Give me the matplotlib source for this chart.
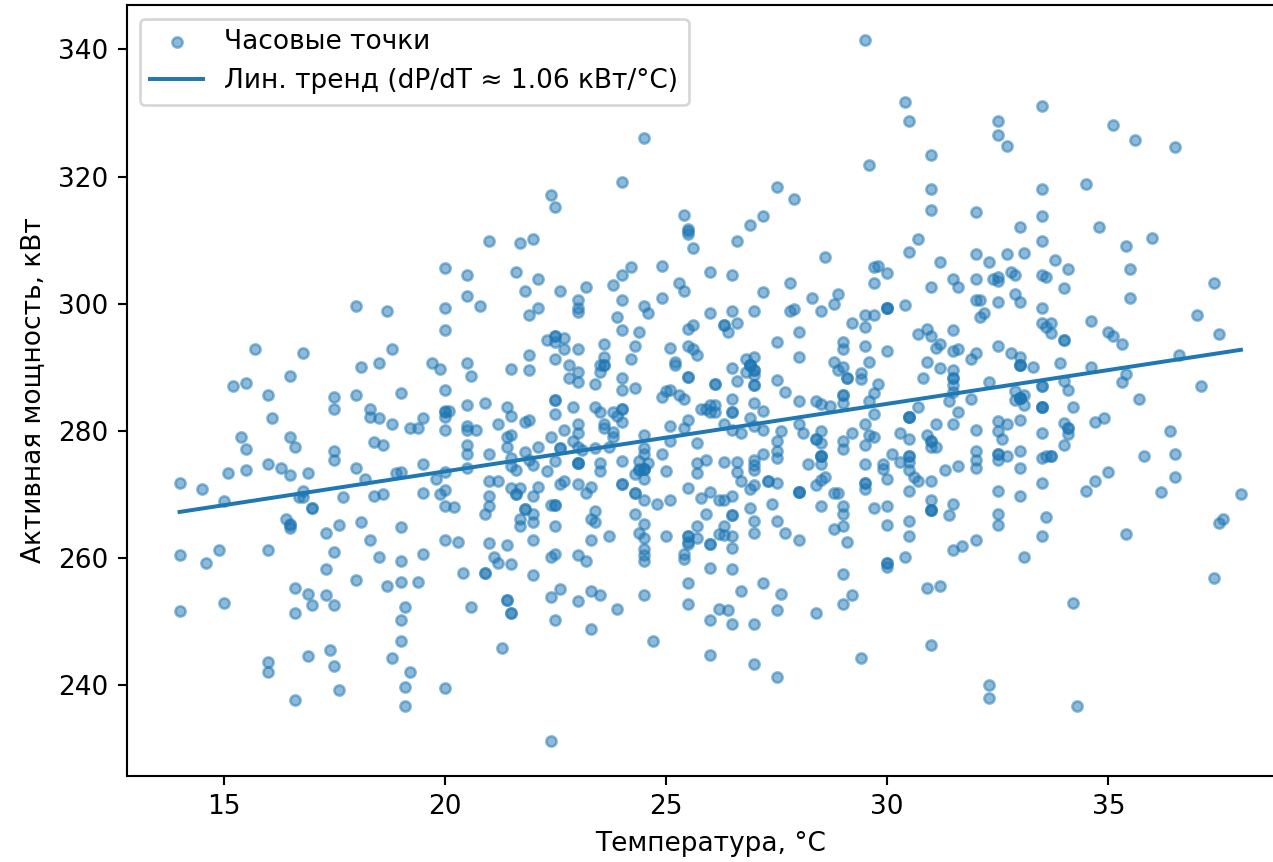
import numpy as np
import matplotlib
matplotlib.use("Agg")
import matplotlib.pyplot as plt

# hourly points: (temperature C, active power kW)
pts_14_17 = [(14.0,271.8),(14.5,270.9),(15.0,268.9),(15.1,273.3),(15.2,287.1),(15.4,279.0),(15.5,287.6),(15.5,277.2),
    (15.5,273.9),(15.7,292.8),(16.0,285.6),(16.0,274.8),(16.1,282.0),(16.3,274.2),(16.5,288.6),(16.5,279.0),
    (16.5,273.0),(16.6,277.5),(16.8,292.2),(16.9,273.3),(16.8,270.6),(16.7,269.6),(16.8,269.6),(14.0,260.4),
    (14.6,259.2),(14.9,261.3),(14.0,251.7),(15.0,252.9),(16.0,261.3),(16.0,243.7),(16.0,242.1),(16.4,266.1),
    (16.5,265.4),(16.5,265.2),(16.5,264.7),(16.6,255.3),(16.6,251.4),(16.6,237.6),(16.9,254.4),(16.9,244.6),
    (17.0,267.9),(17.0,267.9),(17.0,252.6)]

pts_17_20 = [(17.3,264.0),(17.3,254.2),(17.3,258.3),(17.5,285.3),(17.5,283.4),(17.5,276.9),(17.5,275.4),(17.5,261.0),
    (17.5,252.6),(17.5,243.0),(17.4,245.5),(17.6,265.2),(17.6,239.2),(17.7,269.6),(18.0,299.6),(18.0,285.6),
    (18.0,274.2),(18.0,256.5),(18.1,290.0),(18.1,265.6),(18.2,272.4),(18.3,283.4),(18.3,282.2),(18.3,262.8),
    (18.4,278.3),(18.4,269.7),(18.5,290.6),(18.5,282.0),(18.5,260.1),(18.6,277.8),(18.6,270.0),(18.7,298.8),
    (18.7,255.6),(18.8,292.8),(18.8,281.1),(18.8,244.3),(18.9,273.3),(19.0,285.9),(19.0,273.6),(19.0,264.9),
    (19.0,259.5),(19.0,256.2),(19.0,250.2),(19.0,246.9),(19.1,252.3),(19.1,239.7),(19.1,236.7),(19.2,280.4),
    (19.2,242.1),(19.4,280.4),(19.4,256.2),(19.5,282.0),(19.5,274.8),(19.5,270.2),(19.5,260.7),(19.7,290.6),
    (19.8,272.4),(19.9,289.7),(19.9,270.0)]

pts_20_22 = [(20.0,305.6),(20.0,299.3),(20.0,295.8),(20.0,286.4),(20.0,283.2),(20.0,283.0),(20.0,282.2),(20.0,280.1),
    (20.0,273.6),(20.0,270.7),(20.0,268.2),(20.0,262.8),(20.0,239.5),(20.2,268.0),(20.1,283.2),(20.3,262.6),
    (20.4,257.7),(20.5,304.5),(20.5,301.2),(20.5,290.7),(20.5,284.1),(20.5,280.8),(20.5,280.2),(20.5,277.8),
    (20.5,276.3),(20.5,274.2),(20.6,288.6),(20.6,252.3),(20.7,280.2),(20.8,299.7),(20.9,284.4),(20.9,267.0),
    (20.9,257.7),(20.9,257.7),(21.0,309.9),(21.0,276.3),(21.0,272.1),(21.0,269.7),(21.0,268.2),(21.0,262.3),
    (21.1,260.2),(21.2,281.1),(21.2,272.1),(21.2,259.2),(21.3,245.8),(21.4,283.8),(21.4,277.5),(21.4,279.0),
    (21.4,262.0),(21.4,253.4),(21.4,253.4),(21.5,289.8),(21.5,282.3),(21.5,279.3),(21.5,275.8),(21.5,274.4),
    (21.5,271.0),(21.5,259.0),(21.5,251.4),(21.5,251.4),(21.6,305.0),(21.6,273.9),(21.6,270.0),(21.6,270.0),
    (21.7,309.6),(21.7,271.0),(21.7,266.2),(21.7,265.0),(21.8,302.0),(21.8,281.4),(21.8,276.7),(21.8,267.7),
    (21.8,267.7),(21.9,298.2),(21.9,291.9),(21.9,289.5),(21.9,281.7),(21.9,275.4),(22.0,310.2),(22.0,274.6),
    (22.0,269.7),(22.0,267.0),(22.0,265.6),(22.0,262.9),(22.0,257.4)]

pts_22_24 = [(22.1,303.9),(22.1,299.4),(22.1,277.5),(22.1,271.2),(22.3,294.3),(22.3,273.7),(22.4,317.1),(22.4,279.0),
    (22.4,268.3),(22.4,260.2),(22.4,253.9),(22.4,231.3),(22.5,315.2),(22.5,294.9),(22.5,294.9),(22.5,293.9),
    (22.5,291.3),(22.5,284.9),(22.5,284.9),(22.5,282.6),(22.5,275.2),(22.5,268.4),(22.5,268.4),(22.5,265.0),
    (22.5,260.7),(22.5,250.2),(22.6,302.0),(22.6,277.3),(22.6,277.3),(22.6,271.6),(22.6,255.1),(22.7,294.6),
    (22.7,292.8),(22.7,280.2),(22.7,272.1),(22.8,290.4),(22.8,288.3),(22.9,283.8),(22.9,278.4),(23.0,300.6),
    (23.0,299.3),(23.0,298.7),(23.0,292.8),(23.0,289.2),(23.0,287.7),(23.0,281.1),(23.0,279.6),(23.0,277.5),
    (23.0,274.9),(23.0,274.9),(23.0,274.9),(23.0,260.4),(23.0,253.2),(23.0,271.6),(23.1,277.0),(23.2,302.7),
    (23.2,270.3),(23.2,259.5),(23.3,271.2),(23.3,266.2),(23.3,262.9),(23.3,254.8),(23.3,248.8),(23.4,287.4),
    (23.4,283.8),(23.4,277.3),(23.4,267.4),(23.4,265.6),(23.5,290.4),(23.5,282.9),(23.5,289.2),(23.5,274.9),
    (23.5,273.7),(23.5,254.2),(23.6,293.7),(23.6,291.6),(23.6,290.4),(23.6,290.4),(23.6,281.1),(23.6,280.5),
    (23.7,277.5),(23.7,263.5),(23.8,303.0),(23.8,282.9),(23.8,279.9),(23.8,279.0),(23.9,297.9),(23.9,282.3),
    (23.9,252.0),(24.0,319.2),(24.0,304.5),(24.0,300.6),(24.0,295.8),(24.0,288.3),(24.0,286.5),(24.0,283.5),
    (24.0,283.5),(24.0,281.4),(24.0,275.2),(24.0,271.7),(24.0,271.7)]

pts_24_26 = [(24.2,305.7),(24.2,291.3),(24.3,293.4),(24.3,286.8),(24.3,273.2),(24.3,270.3),(24.3,270.3),(24.3,267.0),
    (24.4,295.5),(24.4,275.2),(24.4,274.0),(24.4,264.0),(24.4,273.9),(24.5,299.7),(24.5,279.3),(24.5,277.3),
    (24.5,274.0),(24.5,274.0),(24.5,274.0),(24.5,272.4),(24.5,269.1),(24.5,265.3),(24.5,263.2),(24.5,254.2),
    (24.5,326.0),(24.6,298.5),(24.5,276.3),(24.6,274.9),(24.5,261.4),(24.5,260.5),(24.5,259.5),(24.7,247.0),
    (24.8,268.5),(24.9,306.0),(24.9,300.9),(24.9,285.3),(24.9,276.3),(25.0,286.3),(25.0,273.7),(25.0,263.5),
    (25.1,293.1),(25.1,286.5),(25.1,280.8),(25.1,278.4),(25.1,269.1),(25.2,290.9),(25.2,290.4),(25.3,303.3),
    (25.3,285.6),(25.4,314.0),(25.4,302.0),(25.4,285.0),(25.4,280.5),(25.4,260.7),(25.4,259.8),(25.5,311.8),
    (25.5,311.4),(25.5,311.0),(25.5,296.1),(25.5,293.4),(25.5,288.5),(25.5,288.5),(25.5,281.7),(25.5,271.0),
    (25.5,263.5),(25.5,263.5),(25.5,262.6),(25.5,262.2),(25.5,256.0),(25.5,252.7),(25.6,308.7),(25.6,296.7),
    (25.6,292.8),(25.7,291.9),(25.7,274.9),(25.7,265.0),(25.7,263.2),(25.7,278.1),(25.7,273.3),(25.8,283.5),
    (25.8,269.5),(25.9,283.5),(25.9,275.4),(25.9,267.0),(26.0,305.0),(26.0,298.5),(26.0,284.1),(26.0,282.9),
    (26.0,270.4),(26.0,262.2),(26.0,262.2),(26.0,258.4),(26.0,250.2),(26.0,244.8)]

pts_26_28 = [(26.1,287.4),(26.1,287.4),(26.1,284.1),(26.1,282.9),(26.2,269.1),(26.2,263.8),(26.2,252.0),(26.3,296.7),
    (26.3,269.1),(26.3,263.7),(26.3,296.7),(26.3,281.1),(26.3,275.1),(26.3,265.0),(26.4,295.5),(26.4,251.8),
    (26.5,304.5),(26.5,298.8),(26.5,289.9),(26.5,285.0),(26.5,283.0),(26.5,283.0),(26.5,280.2),(26.5,269.7),
    (26.5,266.7),(26.5,266.7),(26.5,263.4),(26.5,261.6),(26.5,258.3),(26.5,249.7),(26.6,309.9),(26.6,297.0),
    (26.6,287.9),(26.6,275.1),(26.6,273.6),(26.7,279.6),(26.7,272.1),(26.7,254.8),(26.8,291.3),(26.8,289.2),
    (26.9,312.3),(26.9,290.4),(26.9,290.4),(26.9,290.4),(26.9,282.0),(26.9,270.9),(26.9,267.9),(27.0,289.6),
    (27.0,289.6),(27.0,288.8),(27.0,287.2),(27.0,287.2),(27.0,298.8),(27.0,291.6),(27.0,284.4),(27.0,280.8),
    (27.0,275.4),(27.0,274.6),(27.0,273.9),(27.0,271.5),(27.0,265.8),(27.0,264.0),(27.0,249.7),(27.0,243.4),
    (27.2,313.8),(27.2,301.8),(27.2,283.2),(27.2,280.2),(27.2,276.3),(27.2,256.0),(27.3,272.1),(27.3,272.1),
    (27.4,268.5),(27.5,318.3),(27.5,294.0),(27.5,288.0),(27.5,278.4),(27.5,276.9),(27.5,275.7),(27.5,271.8),
    (27.5,265.8),(27.5,251.8),(27.5,241.3),(27.6,280.0),(27.6,254.4),(27.7,286.1),(27.7,264.0),(27.8,303.2),
    (27.8,298.8),(27.9,316.5),(27.9,299.1),(28.0,295.5),(28.0,291.6),(28.0,284.7),(28.0,281.1),(28.0,270.4),
    (28.0,270.4),(28.0,270.4),(28.0,262.8),(28.1,279.6)]

pts_28_30 = [(28.2,274.8),(28.3,300.9),(28.4,284.7),(28.4,278.7),(28.4,278.7),(28.4,271.5),(28.4,251.4),(28.5,298.8),
    (28.5,284.2),(28.5,280.0),(28.5,278.1),(28.5,276.1),(28.5,276.1),(28.5,276.1),(28.5,274.8),(28.5,272.2),
    (28.5,268.2),(28.6,307.4),(28.6,272.7),(28.7,283.9),(28.8,300.0),(28.8,290.8),(28.8,270.3),(28.8,264.6),
    (28.9,301.5),(28.9,289.5),(28.9,270.3),(29.0,294.0),(29.0,292.8),(29.0,290.1),(29.0,285.6),(29.0,285.6),
    (29.0,284.4),(29.0,278.4),(29.0,277.2),(29.0,268.2),(29.0,267.0),(29.0,265.0),(29.0,257.5),(29.0,252.7),
    (29.1,288.3),(29.1,288.3),(29.1,262.5),(29.2,297.0),(29.2,279.6),(29.2,254.2),(29.4,288.2),(29.4,289.1),
    (29.4,244.3),(29.5,341.4),(29.5,298.2),(29.5,296.4),(29.5,293.4),(29.5,281.1),(29.5,277.8),(29.5,274.8),
    (29.5,271.8),(29.5,271.8),(29.5,270.9),(29.6,321.8),(29.6,290.8),(29.6,284.7),(29.6,279.3),(29.7,305.7),
    (29.7,303.2),(29.7,298.2),(29.7,285.9),(29.7,282.6),(29.7,279.0),(29.7,267.9),(29.8,306.0),(29.8,287.4),
    (29.9,274.8),(29.9,274.0),(30.0,304.8),(30.0,299.4),(30.0,299.4),(30.0,299.4),(30.0,292.5),(30.0,272.4),
    (30.0,268.2),(30.0,265.2),(30.0,259.2),(30.0,259.2),(30.0,258.6)]

pts_30_32 = [(30.1,276.3),(30.3,279.6),(30.3,275.1),(30.4,331.8),(30.4,299.8),(30.4,260.2),(30.5,328.7),(30.5,308.1),
    (30.5,282.2),(30.5,282.2),(30.5,282.2),(30.5,278.7),(30.5,276.0),(30.5,276.0),(30.5,275.1),(30.5,273.9),
    (30.5,270.6),(30.5,265.8),(30.5,263.4),(30.6,272.7),(30.7,310.2),(30.7,295.2),(30.7,283.8),(30.7,272.1),
    (30.8,288.3),(30.9,296.1),(30.9,290.8),(30.9,279.3),(30.9,255.3),(31.0,323.4),(31.0,318.0),(31.0,314.7),
    (31.0,302.7),(31.0,294.9),(31.0,278.4),(31.0,278.4),(31.0,277.5),(31.0,272.1),(31.0,269.1),(31.0,267.5),
    (31.0,267.5),(31.0,267.5),(31.0,246.4),(31.1,293.1),(31.1,281.1),(31.1,277.5),(31.2,306.6),(31.2,293.7),
    (31.2,289.9),(31.2,255.6),(31.3,273.9),(31.4,284.7),(31.4,266.7),(31.5,303.9),(31.5,295.8),(31.5,292.5),
    (31.5,289.6),(31.5,288.3),(31.5,288.3),(31.5,287.2),(31.5,286.1),(31.5,281.1),(31.5,268.5),(31.5,261.3),
    (31.6,302.7),(31.6,292.8),(31.6,282.9),(31.6,274.5),(31.7,261.9),(31.9,291.3),(31.9,285.0),(32.0,314.4),
    (32.0,307.8),(32.0,303.9),(32.0,300.6),(32.0,292.2),(32.0,280.2),(32.0,276.9),(32.0,275.4),(32.0,274.1),
    (32.0,262.8),(32.1,300.6),(32.1,297.9)]

pts_32_38 = [(32.2,298.5),(32.3,306.6),(32.3,287.7),(32.3,240.1),(32.3,238.0),(32.4,303.9),(32.5,328.7),(32.5,326.6),
    (32.5,304.2),(32.5,303.5),(32.5,300.3),(32.5,293.4),(32.5,281.5),(32.5,280.0),(32.5,276.3),(32.5,276.3),
    (32.5,275.4),(32.5,270.6),(32.5,267.0),(32.5,265.2),(32.6,278.7),(32.7,324.8),(32.7,307.8),(32.7,281.1),
    (32.7,276.0),(32.8,305.0),(32.8,292.2),(32.9,304.5),(32.9,301.5),(32.9,286.2),(32.9,284.8),(33.0,312.0),
    (33.0,300.3),(33.0,291.6),(33.0,290.4),(33.0,290.4),(33.0,290.4),(33.0,285.1),(33.0,285.1),(33.0,285.1),
    (33.0,285.1),(33.0,281.7),(33.0,276.9),(33.0,274.2),(33.0,269.7),(33.1,308.0),(33.1,285.7),(33.1,284.1),
    (33.1,260.1),(33.3,290.1),(33.5,331.1),(33.5,318.0),(33.5,313.8),(33.5,309.8),(33.5,304.5),(33.5,299.4),
    (33.5,297.0),(33.5,287.1),(33.5,287.1),(33.5,283.8),(33.5,283.8),(33.5,283.8),(33.5,279.6),(33.5,275.7),
    (33.5,271.8),(33.5,263.4),(33.6,304.2),(33.6,296.4),(33.6,266.4),(33.6,276.0),(33.7,297.0),(33.7,295.4),
    (33.7,276.0),(33.7,276.0),(33.8,306.9),(33.9,290.7),(34.0,302.4),(34.0,294.3),(34.0,294.3),(34.0,287.9),
    (34.0,281.2),(34.0,277.8),(34.1,305.4),(34.1,286.5),(34.1,280.4),(34.1,280.4),(34.1,279.5),(34.2,283.8),
    (34.2,252.9),(34.3,236.8),(34.5,318.8),(34.5,270.6),(34.6,297.3),(34.6,290.1),(34.7,281.4),(34.7,272.1),
    (34.8,312.0),(34.9,282.0),(35.0,295.5),(35.0,273.6),(35.1,328.1),(35.1,294.9),(35.3,293.7),(35.3,287.7),
    (35.4,289.0),(35.4,309.0),(35.4,263.8),(35.5,305.4),(35.5,300.9),(35.6,325.7),(35.7,285.0),(35.8,276.0),
    (36.0,310.4),(36.2,270.4),(36.4,280.0),(36.5,324.6),(36.5,276.3),(36.5,272.7),(36.6,292.0),(37.0,298.2),
    (37.1,287.1),(37.4,303.2),(37.4,256.9),(37.5,295.2),(37.5,265.5),(37.6,266.1),(38.0,270.0)]

trend_t = [14.0, 38.0]
trend_p = [267.25, 292.75]

all_pts = pts_14_17 + pts_17_20 + pts_20_22 + pts_22_24 + pts_24_26 + pts_26_28 + pts_28_30 + pts_30_32 + pts_32_38
temp = [p[0] for p in all_pts]
power = [p[1] for p in all_pts]

plt.rcParams['font.family'] = ['DejaVu Sans']

dpi = 190
fig, ax = plt.subplots(figsize=(1273 / dpi, 862 / dpi), dpi=dpi)
# the picture is cropped just before the right spine
fig.subplots_adjust(left=126.5 / 1273, right=1294 / 1273, top=1 - 5.5 / 862, bottom=1 - 775.5 / 862)

ax.scatter(temp, power, s=15, alpha=0.5, label="Часовые точки")
ax.plot(trend_t, trend_p, label="Лин. тренд (dP/dT ≈ 1.06 кВт/°C)")

ax.set_xlim(12.8, 39.2)
ax.set_ylim(225.8, 346.9)
ax.set_xlabel("Температура, °C")
ax.set_ylabel("Активная мощность, кВт")
ax.legend(loc="upper left")

fig.savefig("out.png", dpi=dpi)
